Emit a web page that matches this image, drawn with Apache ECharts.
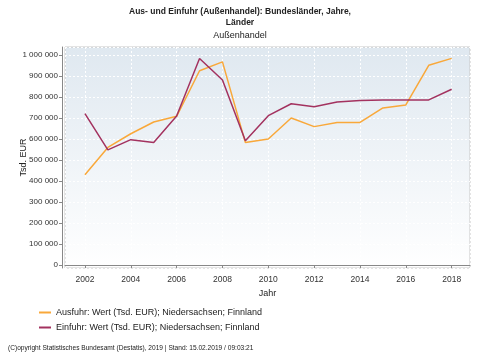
<!DOCTYPE html>
<html><head><meta charset="utf-8">
<script src="https://cdn.jsdelivr.net/npm/echarts@6/dist/echarts.min.js"></script>
<style>html,body{margin:0;padding:0;background:#fff}#c{width:480px;height:360px}</style>
</head><body><div id="c"></div>
<script>
var years = [2002,2003,2004,2005,2006,2007,2008,2009,2010,2011,2012,2013,2014,2015,2016,2017,2018];
var ausfuhr = [430000,560000,625000,681000,708000,925000,967000,583000,600000,700000,659000,679000,679000,748000,762000,951000,984000];
var einfuhr = [721000,548000,597000,583000,710000,983000,881000,592000,711000,768000,754000,776000,783000,786000,786000,786000,837000];
var seriesNames = ['Ausfuhr: Wert (Tsd. EUR); Niedersachsen; Finnland','Einfuhr: Wert (Tsd. EUR); Niedersachsen; Finnland'];

function pairs(vals){ return years.map(function(y,i){ return [y, vals[i]]; }); }
function fmt(v){ return String(Math.round(v)).replace(/\B(?=(\d{3})+(?!\d))/g,' '); }

var chart = echarts.init(document.getElementById('c'), null, {renderer:'canvas'});
var font = 'Liberation Sans, Arial, sans-serif';
chart.setOption({
  animation:false,
  textStyle:{fontFamily:font},
  title:[
    {text:'Aus- und Einfuhr (Außenhandel): Bundesländer, Jahre,\nLänder', left:'center', top:1,
     textStyle:{fontSize:8.5, fontWeight:'bold', color:'#222', lineHeight:11, fontFamily:font}},
    {text:'Außenhandel', left:'center', top:26, textStyle:{fontSize:9, fontWeight:'normal', color:'#222', fontFamily:font}},
    {text:'(C)opyright Statistisches Bundesamt (Destatis), 2019 | Stand: 15.02.2019 / 09:03:21', left:3, top:340,
     textStyle:{fontSize:6.6, fontWeight:'normal', color:'#222', fontFamily:font}}
  ],
  legend:{
    orient:'vertical', left:34, top:301, itemWidth:12, itemHeight:2, itemGap:2, icon:'rect',
    textStyle:{fontSize:9, color:'#222', lineHeight:13, fontFamily:font},
    data:seriesNames
  },
  grid:{left:65, right:10, top:47, bottom:92, show:true, borderColor:'#c8c8c8', borderWidth:1, outerBoundsMode:'none', containLabel:false,
    backgroundColor:{type:'linear', x:0, y:0, x2:0, y2:1, colorStops:[{offset:0,color:'#dfe8f0'},{offset:1,color:'#ffffff'}]}},
  xAxis:{
    type:'value', min:2001.13, max:2018.8, splitNumber:9, offset:2,
    name:'Jahr', nameLocation:'middle', nameGap:19, nameTextStyle:{fontSize:9, color:'#222'},
    axisLine:{lineStyle:{color:'#888'}},
    axisTick:{length:3, lineStyle:{color:'#888'}},
    axisLabel:{showMinLabel:false, showMaxLabel:false, fontSize:8.5, color:'#333', margin:5, formatter:function(v){return String(v);}},
    splitLine:{show:true, lineStyle:{color:'#ffffff', type:[2,2], width:1}}
  },
  yAxis:{
    type:'value', min:-14000, max:1038000, splitNumber:10, offset:3,
    name:'Tsd. EUR', nameLocation:'middle', nameGap:34, nameMoveOverlap:false, nameTextStyle:{fontSize:9, color:'#222'},
    axisLine:{show:true, lineStyle:{color:'#888'}},
    axisTick:{show:true, length:3, lineStyle:{color:'#888'}},
    axisLabel:{showMinLabel:false, showMaxLabel:false, fontSize:8, color:'#333', margin:4, formatter:fmt},
    splitLine:{show:true, lineStyle:{color:'#ffffff', type:[2,2], width:1}}
  },
  series:[
    {name:seriesNames[0], type:'line', data:pairs(ausfuhr), symbol:'none', lineStyle:{color:'#f9a83a', width:1.5}, itemStyle:{color:'#f9a83a'}},
    {name:seriesNames[1], type:'line', data:pairs(einfuhr), symbol:'none', lineStyle:{color:'#a3325f', width:1.5}, itemStyle:{color:'#a3325f'}}
  ]
});
</script></body></html>
